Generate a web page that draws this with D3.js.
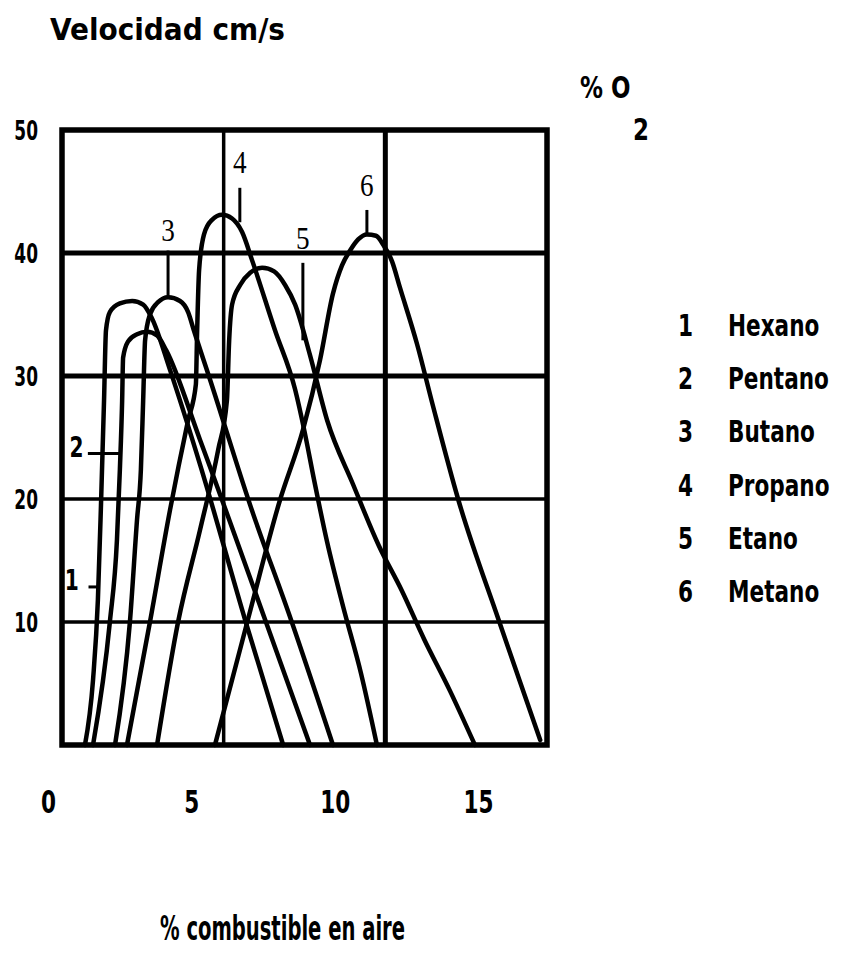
<!DOCTYPE html>
<html>
<head>
<meta charset="utf-8">
<script src="https://cdn.jsdelivr.net/npm/d3@7"></script>
<style>
  html, body { margin: 0; padding: 0; background: #fff; }
  svg text { font-family: "DejaVu Sans Condensed", "DejaVu Sans", sans-serif; font-stretch: condensed; font-weight: bold; fill: #000; }
  svg text.serif { font-family: "Liberation Serif", "DejaVu Serif", serif; font-stretch: normal; font-weight: normal; }
</style>
</head>
<body>
<svg id="chart" width="861" height="972"></svg>
<script>
// curves: [% combustible, velocidad cm/s]
const hexano = [[0.71,0],[0.96,5.3],[1.11,11.8],[1.21,19.9],[1.30,28],[1.36,33.7],[1.48,35.2],[1.79,35.9],[2.17,36.1],[2.51,35.8],[2.78,34.7],[3.34,30.5],[4.27,22.8],[5.66,10.2],[6.84,0]];
const pentano = [[0.96,0],[1.48,10],[1.70,16.7],[1.79,22.4],[1.86,28],[1.89,31.5],[2.04,32.8],[2.32,33.4],[2.63,33.6],[2.94,33.3],[3.22,32.1],[4.27,24.8],[6.28,10.2],[7.67,0]];
const butano = [[1.64,0],[2.10,10],[2.32,18.3],[2.44,22.4],[2.51,28],[2.57,32.9],[2.72,35],[2.97,36],[3.28,36.4],[3.65,36.1],[3.90,35.2],[4.08,33.7],[4.58,29.7],[5.82,19.5],[7.08,10.2],[8.38,0]];
const propano = [[2.01,0],[2.72,10],[3.34,19.1],[3.90,26.4],[4.14,29.3],[4.18,33.7],[4.24,38.6],[4.39,41.5],[4.64,42.7],[4.95,43.1],[5.26,42.8],[5.57,41.7],[5.88,39.4],[6.59,33.7],[7.21,28.9],[7.5,25.5],[7.8,21.5],[8.2,16.5],[8.7,11.2],[9.25,5.8],[9.74,0]];
const etano = [[2.94,0],[3.59,10],[4.27,17.5],[4.83,24],[5.10,28],[5.17,32.9],[5.26,35.8],[5.51,37.4],[5.82,38.4],[6.19,38.8],[6.56,38.5],[6.90,37.4],[7.21,35.8],[7.67,31.7],[8.20,26.4],[9.0,21.2],[9.8,16.2],[10.5,12.6],[11.2,8.6],[12.0,4.4],[12.77,0]];
const metano = [[4.73,0],[5.75,10.2],[6.74,19.9],[7.45,25.6],[7.98,31.3],[8.38,36.7],[8.66,39],[8.91,40.2],[9.16,41.1],[9.43,41.5],[9.71,41.4],[9.93,40.7],[10.21,39.3],[10.45,37.2],[10.98,32.6],[11.47,27.6],[12.25,20],[13.5,10.2],[14.17,5.1],[14.79,0.4]];

const seriesNames = ["Hexano", "Pentano", "Butano", "Propano", "Etano", "Metano"];
const seriesData = [hexano, pentano, butano, propano, etano, metano];

const yTicks = [10, 20, 30, 40, 50];
const xGrid = [5, 10];
const yGrid = [10, 20, 30, 40];
const xTickLabels = ["0", "5", "10", "15"];

// curve number callouts: text point and pointer line, in data units
const callouts = [
  {n: "1", tx: 0.30, ty: 12.6, p: [[0.82, 12.85], [1.10, 12.85]], serif: false},
  {n: "2", tx: 0.45, ty: 23.4, p: [[0.80, 23.7], [1.82, 23.7]], serif: false},
  {n: "3", tx: 3.28, ty: 41.0, p: [[3.28, 40.2], [3.28, 36.5]], serif: true},
  {n: "4", tx: 5.50, ty: 46.5, p: [[5.50, 45.3], [5.50, 42.5]], serif: true},
  {n: "5", tx: 7.45, ty: 40.3, p: [[7.45, 39.2], [7.45, 32.9]], serif: true},
  {n: "6", tx: 9.43, ty: 44.6, p: [[9.43, 43.5], [9.43, 41.5]], serif: true}
];

const svg = d3.select("#chart");

const x = d3.scaleLinear().domain([0, 15]).range([62, 547]);
const y = d3.scaleLinear().domain([0, 50]).range([745, 130]);

// squeezed text, the scan uses a very narrow face
function label(parent, tx, ty, str, size, sx) {
    return parent.append("text")
        .attr("transform", `translate(${tx},${ty}) scale(${sx},1)`)
        .attr("font-size", size)
        .text(str);
}

// grid
svg.selectAll("line.vgrid")
    .data(xGrid)
    .enter()
    .append("line")
    .attr("x1", d => x(d)).attr("x2", d => x(d))
    .attr("y1", y(50)).attr("y2", y(0))
    .attr("stroke", "#000")
    .attr("stroke-width", d => d === 10 ? 5 : 3.5);

svg.selectAll("line.hgrid")
    .data(yGrid)
    .enter()
    .append("line")
    .attr("x1", x(0)).attr("x2", x(15))
    .attr("y1", d => y(d)).attr("y2", d => y(d))
    .attr("stroke", "#000")
    .attr("stroke-width", d => d >= 30 ? 5 : 3.5);

// frame
svg.append("rect")
    .attr("x", x(0)).attr("y", y(50))
    .attr("width", x(15) - x(0)).attr("height", y(0) - y(50))
    .attr("fill", "none")
    .attr("stroke", "#000")
    .attr("stroke-width", 5.5);

// curves
const lineGenerator = d3.line()
    .x(d => x(d[0]))
    .y(d => y(d[1]))
    .curve(d3.curveMonotoneX);

svg.selectAll("path.curve")
    .data(seriesData)
    .enter()
    .append("path")
    .attr("class", "curve")
    .attr("d", d => lineGenerator(d))
    .attr("fill", "none")
    .attr("stroke", "#000")
    .attr("stroke-width", 4.5)
    .attr("stroke-linejoin", "round")
    .attr("stroke-linecap", "round");

// callouts
svg.selectAll("path.pointer")
    .data(callouts)
    .enter()
    .append("path")
    .attr("d", d => d3.line().x(p => x(p[0])).y(p => y(p[1]))(d.p))
    .attr("stroke", "#000")
    .attr("stroke-width", 3);

svg.selectAll("text.callout")
    .data(callouts)
    .enter()
    .append("text")
    .attr("class", d => d.serif ? "callout serif" : "callout")
    .attr("transform", d => `translate(${x(d.tx)},${y(d.ty)}) scale(${d.serif ? 0.85 : 0.8},1)`)
    .attr("text-anchor", "middle")
    .attr("font-size", d => d.serif ? 32 : 28)
    .text(d => d.n);

// y axis
const yAxis = svg.append("g")
    .attr("transform", `translate(${x(0) - 24},0)`)
    .call(d3.axisLeft(y).tickValues(yTicks).tickSize(0).tickPadding(0));
yAxis.select(".domain").remove();
yAxis.selectAll("text")
    .attr("font-size", 27)
    .attr("font-family", null)
    .attr("dy", "0.36em")
    .attr("transform", "scale(0.7,1)");

// x axis labels (set a bit off the grid, as in the scan)
const xLab = d3.scalePoint().domain(xTickLabels).range([48, 478]);
const xAxis = svg.append("g")
    .attr("transform", "translate(0,790)")
    .call(d3.axisBottom(xLab).tickSize(0).tickPadding(0));
xAxis.select(".domain").remove();
xAxis.selectAll("text")
    .attr("font-size", 32)
    .attr("font-family", null)
    .attr("transform", "scale(0.75,1)");

// titles
svg.append("text")
    .attr("x", 50).attr("y", 40)
    .attr("font-size", 30)
    .attr("textLength", 235)
    .attr("lengthAdjust", "spacingAndGlyphs")
    .text("Velocidad cm/s");

label(svg, 580, 98, "% O", 30, 0.85);
label(svg, 633, 140, "2", 30, 0.85);

svg.append("text")
    .attr("x", 160).attr("y", 940)
    .attr("font-size", 33)
    .attr("textLength", 245)
    .attr("lengthAdjust", "spacingAndGlyphs")
    .text("% combustible en aire");

// legend
const legend = svg.selectAll("g.legend")
    .data(seriesNames)
    .enter()
    .append("g")
    .attr("transform", (d, i) => `translate(678,${336 + i * 53.2})`);
legend.each(function (d, i) {
    const g = d3.select(this);
    label(g, 0, 0, String(i + 1), 30, 0.8);
    label(g, 50, 0, d, 30, 0.8);
});
</script>
</body>
</html>
